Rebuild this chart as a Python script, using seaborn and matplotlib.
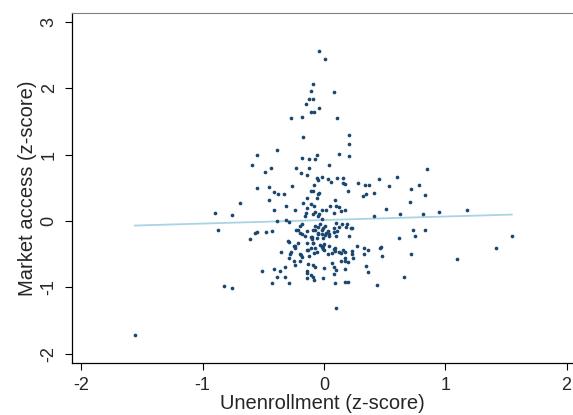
import matplotlib
matplotlib.use('Agg')
import matplotlib.pyplot as plt
import numpy as np
import pandas as pd
import seaborn as sns

# Points (z-scores)
unenroll = [
    -0.04, 0.01, -0.09, -0.11, 0.08, -0.12, -0.09, -0.15, -0.04, -0.11,
    -0.08, -0.27, -0.18, 0.11, -0.17, 0.21, 0.21, -0.39, -0.55, -0.18,
    -0.12, -0.07, -0.06, 0.12, 0.21,
    -0.59, -0.44, -0.49, -0.23, -0.12, 0.04, -0.19, -0.06, -0.05, -0.02,
    0.03, 0.11, 0.16, -0.14, 0.06, 0.17, 0.16, 0.34, 0.37, 0.28,
    -0.26, -0.08, -0.45, -0.55, -0.41, -0.38, -0.33, -0.11, -0.09, -0.04,
    -0.05, 0.20, 0.35, 0.32, -0.45, -0.14, -0.06, 0.09, -0.69, -0.17,
    -0.11, -0.08, 0.05, 0.10, 0.12, -0.31, -0.14, -0.02, 0.02, -0.41,
    -0.24, -0.07, -0.04, -0.15, 0.08, 0.14, 0.17, -0.90, -0.76, -0.16,
    -0.09, -0.05, -0.02, -0.31, -0.39, -0.18, -0.29, -0.03, 0.10, 0.15,
    -0.20, -0.07, -0.05, 0.01, 0.12, 0.18, 0.22, 0.23, -0.87, -0.23,
    -0.21, -0.14, -0.09, -0.07, -0.02, 0.03, 0.11, -0.55, -0.57, -0.48,
    -0.43, -0.20, -0.05, -0.02, 0.01, 0.02, 0.08, 0.10, -0.16, -0.11,
    -0.06, -0.01, 0.04, -0.61, 0.21, -0.10, -0.05, -0.01, 0.04, -0.09,
    -0.30, -0.29, -0.24, -0.21, -0.14, -0.09, -0.03, -0.01, 0.04, 0.09,
    0.16, 0.27, 0.36, -0.35, -0.28, -0.27, -0.14, -0.13, -0.11, -0.12,
    -0.08, -0.06, -0.02, 0.00, 0.03, -0.01, 0.07, 0.08, 0.12, 0.14,
    0.17, 0.33, 0.33, -0.29, -0.25, -0.19, -0.18, -0.20, 0.17, 0.24,
    0.14, 0.17, 0.20, -0.24, -0.13, -0.09, -0.07, 0.00, 0.07, 0.08,
    0.10, 0.17, 0.35, 0.36, -0.51, -0.41, -0.36, -0.32, -0.14, -0.11,
    -0.14, 0.08, -0.39, -0.32, -0.14, -0.09, -0.08, -0.01, -0.43, -0.29,
    0.09, 0.17, 0.20, -0.82, -0.76, 0.10,
    0.19, 0.08, -0.18, -0.10, 0.00, -0.25, -0.07, 0.23, -0.24, 0.09,
    -0.20, 0.23,
    0.85, 0.45, 0.60, 0.78, 0.54, 0.72, 0.83, 0.41, 0.71, 0.51,
    0.63, 0.82, 0.95, 1.18, 0.41, 0.73, 0.83, 0.75, 1.55, 0.62,
    0.47, 0.46, 1.42, 0.48, 0.72, 1.10, 0.66, 0.44,
    -1.56,
]
market = [
    2.57, 2.44, 2.06, 1.96, 1.95, 1.84, 1.84, 1.77, 1.70, 1.65,
    1.65, 1.55, 1.57, 1.56, 1.26, 1.29, 1.16, 1.07, 1.00, 0.95,
    0.94, 0.94, 1.00, 1.01, 0.98,
    0.85, 0.80, 0.74, 0.80, 0.80, 0.84, 0.73, 0.65, 0.62, 0.66,
    0.64, 0.65, 0.65, 0.69, 0.59, 0.56, 0.58, 0.54, 0.54, 0.58,
    0.53, 0.55, 0.52, 0.50, 0.43, 0.40, 0.41, 0.46, 0.46, 0.42,
    0.40, 0.45, 0.40, 0.37, 0.31, 0.34, 0.34, 0.31, 0.27, 0.27,
    0.25, 0.23, 0.22, 0.23, 0.21, 0.23, 0.19, 0.17, 0.16, 0.17,
    0.17, 0.13, 0.11, 0.12, 0.12, 0.15, 0.17, 0.12, 0.09, 0.07,
    0.10, 0.08, 0.03, 0.02, 0.00, -0.04, -0.02, -0.04, -0.03, -0.04,
    -0.08, -0.08, -0.09, -0.07, -0.09, -0.09, -0.10, -0.11, -0.14, -0.14,
    -0.13, -0.15, -0.14, -0.13, -0.13, -0.15, -0.15, -0.16, -0.18, -0.17,
    -0.15, -0.18, -0.18, -0.20, -0.21, -0.18, -0.17, -0.22, -0.22, -0.24,
    -0.25, -0.25, -0.23, -0.27, -0.23, -0.27, -0.20, -0.11, -0.20, -0.33,
    -0.30, -0.31, -0.37, -0.33, -0.33, -0.33, -0.36, -0.37, -0.38, -0.40,
    -0.44, -0.37, -0.43, -0.46, -0.50, -0.46, -0.44, -0.43, -0.40, -0.53,
    -0.48, -0.47, -0.39, -0.43, -0.50, -0.42, -0.48, -0.42, -0.46, -0.48,
    -0.46, -0.41, -0.50, -0.56, -0.60, -0.51, -0.54, -0.60, -0.55, -0.55,
    -0.60, -0.61, -0.62, -0.66, -0.65, -0.66, -0.69, -0.71, -0.64, -0.70,
    -0.74, -0.73, -0.68, -0.77, -0.75, -0.73, -0.76, -0.69, -0.75, -0.82,
    -0.78, -0.80, -0.84, -0.85, -0.86, -0.85, -0.89, -0.86, -0.93, -0.93,
    -0.93, -0.92, -0.92, -0.98, -1.01, -1.31,
    -0.05, -0.11, -0.20, -0.24, -0.35, -0.37, -0.40, -0.45, -0.41, -0.45,
    -0.50, -0.50,
    0.78, 0.63, 0.67, 0.54, 0.53, 0.49, 0.39, 0.42, 0.28, 0.18,
    0.10, 0.10, 0.14, 0.16, 0.07, -0.13, -0.13, -0.22, -0.22, -0.25,
    -0.39, -0.41, -0.41, -0.52, -0.50, -0.57, -0.85, -0.96,
    -1.72,
]

df = pd.DataFrame({'unenroll': unenroll, 'market': market})

sns.set_style('white')
plt.rcParams['font.family'] = ['Liberation Sans', 'DejaVu Sans']
plt.rcParams['axes.unicode_minus'] = False

fig = plt.figure(figsize=(5.73, 4.15), dpi=100)
ax = fig.add_axes([0.125, 0.1253, 0.875, 0.8441])

sns.regplot(data=df, x='unenroll', y='market', scatter=False, ci=None,
            truncate=True, color='#a8d4e4', line_kws={'linewidth': 1.3}, ax=ax)
sns.scatterplot(data=df, x='unenroll', y='market', color='#1a476f', s=7,
                linewidth=0, ax=ax, zorder=3)

ax.set_xlim(-2.08, 2.053)
ax.set_ylim(-2.14, 3.14)
ax.set_xticks([-2, -1, 0, 1, 2])
ax.set_yticks([-2, -1, 0, 1, 2, 3])
ax.tick_params(axis='both', direction='out', length=5, width=0.8,
               color='black', labelsize=13, pad=5, left=True, bottom=True)
for lab in ax.get_yticklabels():
    lab.set_rotation(90)
    lab.set_va('center')
ax.set_xlabel('Unenrollment (z-score)', fontsize=14.5, labelpad=0)
ax.set_ylabel('Market access (z-score)', fontsize=14.5, labelpad=3)

ax.spines['right'].set_visible(False)
ax.spines['top'].set_color('#808080')
ax.spines['top'].set_linewidth(0.8)
ax.spines['left'].set_color('black')
ax.spines['bottom'].set_color('black')
ax.spines['left'].set_linewidth(0.9)
ax.spines['bottom'].set_linewidth(0.9)

plt.savefig('out.png', dpi=100)
plt.close()
